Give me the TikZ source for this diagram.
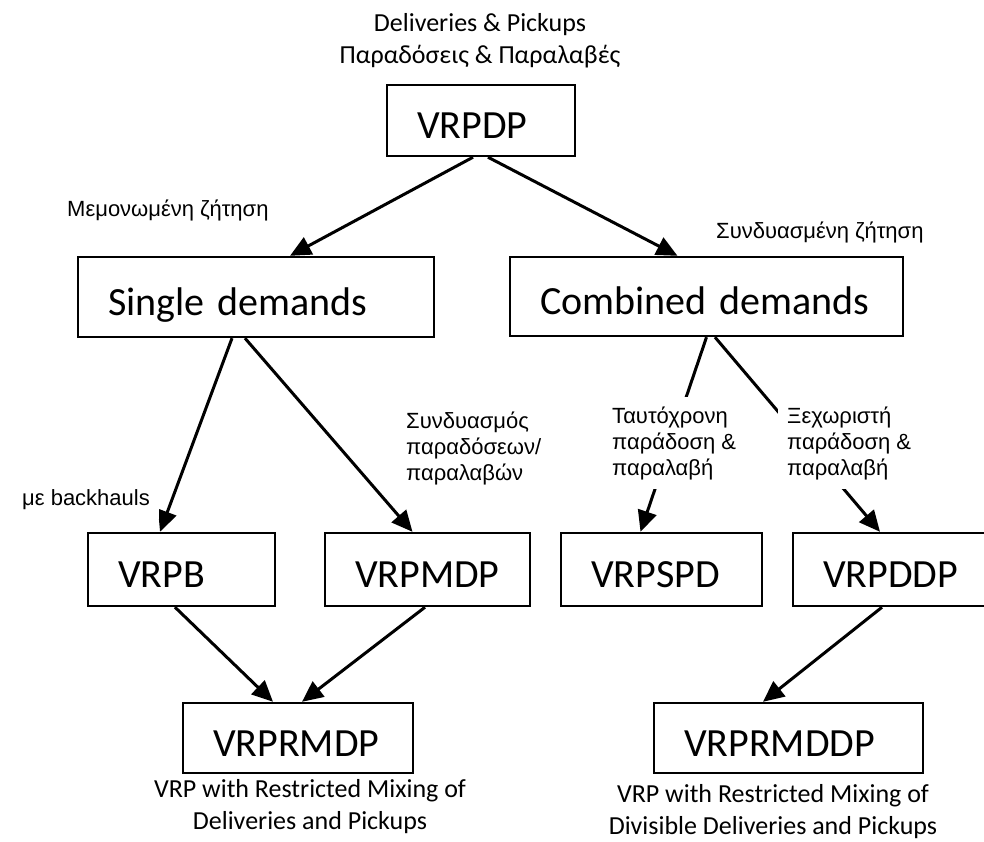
\documentclass[tikz,border=0pt]{standalone}
\usepackage{fontspec}
\setmainfont{Carlito}
\newfontfamily\arialfont{Liberation Sans}
\usetikzlibrary{arrows.meta,calc}

\newcommand{\boxfont}{\fontsize{40}{44}\selectfont}
\newcommand{\capfont}{\fontsize{26}{32}\selectfont}
\newcommand{\greekfont}{\arialfont\fontsize{22}{26}\selectfont}

\tikzstyle{probbox}=[rectangle,draw=black,line width=2.4pt,inner xsep=30pt,inner ysep=0pt,align=left,text height=36pt,text depth=0pt,font=\boxfont]
\tikzstyle{caption}=[align=center,font=\capfont]
\tikzstyle{branch}=[align=left,anchor=west,fill=white,inner sep=9pt,font=\greekfont]
\tikzstyle{arrow}=[-{Triangle[length=21pt,width=19pt]},line width=3pt]

\begin{document}
\begin{tikzpicture}[x=1pt,y=-1pt]
\useasboundingbox (0,0) rectangle (984,841);

%boxes
    \foreach \pos/\name/\w/\h/\label in {{(481,120.5)/vrpdp/188/71/VRPDP}, {(256,297)/single/356/80/Single demands}, {(706.5,296.5)/combined/393/79/Combined demands},
        {(181.5,569.5)/vrpb/187/73/VRPB}, {(427.5,569.5)/vrpmdp/205/73/VRPMDP}, {(661.5,569.5)/vrpspd/201/73/VRPSPD}, {(890,569.5)/vrpddp/194/73/VRPDDP},
        {(298,738)/vrprmdp/230/70/VRPRMDP}, {(788.5,738)/vrprmddp/269/70/VRPRMDDP}}
        \node[probbox,text width=\w pt-60pt,minimum height=\h pt] (\name) at \pos {\label};

%captions
    \node[caption] (toptext) at (480,41) {Deliveries \& Pickups\\Παραδόσεις \& Παραλαβές};
    \node[caption] (lefttext) at (310,807) {VRP with Restricted Mixing of\\Deliveries and Pickups};
    \node[caption] (righttext) at (773,812) {VRP with Restricted Mixing of\\Divisible Deliveries and Pickups};

%arrows
  \foreach \source/\sx/\dest/\tx in {vrpdp/-8/single/34, vrpdp/7/combined/-29, single/-24/vrpb/-21.5, single/-11/vrpmdp/-15,
        combined/0/vrpspd/-21, combined/8.5/vrpddp/-10, vrpb/-6.5/vrprmdp/-25, vrpmdp/-2.5/vrprmdp/4, vrpddp/-8/vrprmddp/-25.5}
          \draw[arrow] ([xshift=\sx pt]\source.south) -- ([xshift=\tx pt]\dest.north);

%branch labels
    \node[branch] (single lbl) at (58,210) {Μεμονωμένη ζήτηση};
    \node[branch] (comb lbl) at (707,232) {Συνδυασμένη ζήτηση};
    \node[branch] (back lbl) at (13,500) {με backhauls};
    \node[branch] (mix lbl) at (397,448) {Συνδυασμός\\παραδόσεων/\\παραλαβών};
    \node[branch] (simul lbl) at (603,443) {Ταυτόχρονη\\παράδοση \&\\παραλαβή};
    \node[branch] (sep lbl) at (778,443) {Ξεχωριστή\\παράδοση \&\\παραλαβή};

\end{tikzpicture}
\end{document}
